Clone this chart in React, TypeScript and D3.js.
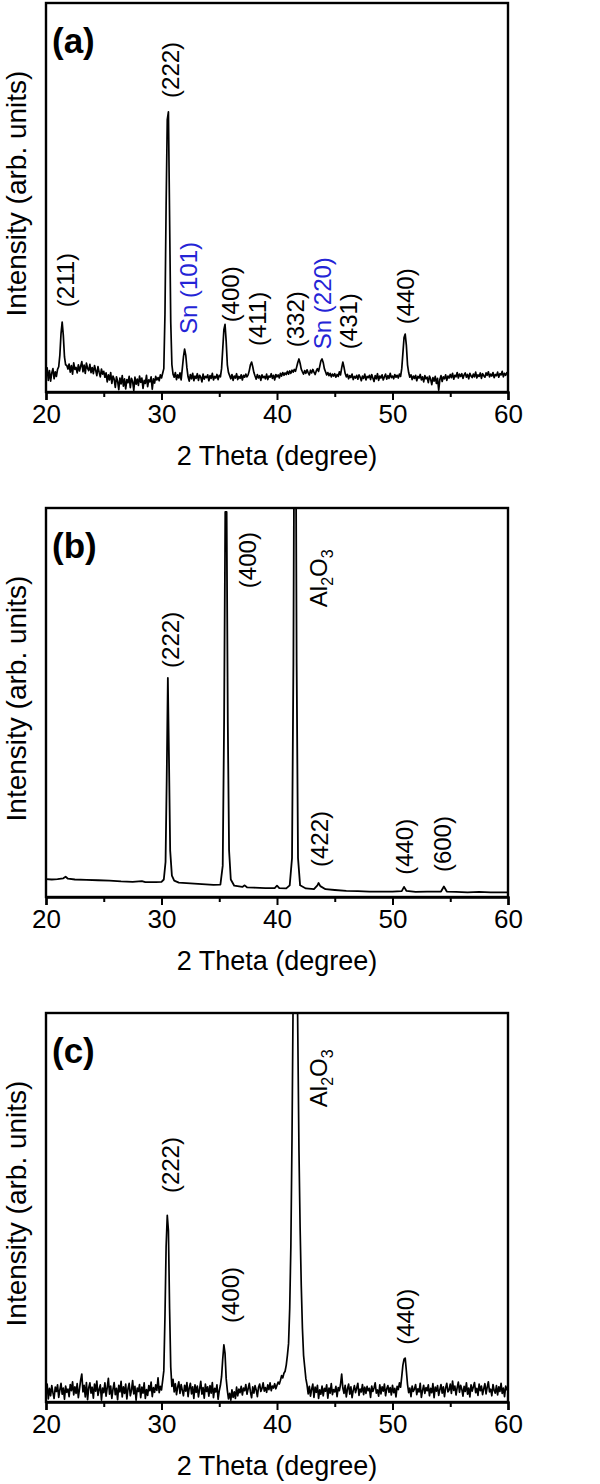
import React, { useEffect, useRef } from "react";
import * as d3 from "d3";

// 2 theta sampling grid for the noisy scans (a) and (c)
const THETA_START = 20;
const THETA_STEP = 0.1;

const xTicks = [20, 30, 40, 50, 60];
const xMinorTicks = [25, 35, 45, 55];

// (a) intensity, 20.0 .. 60.0 in 0.1 deg steps (arb. units, 100 = frame top)
const intensityA = [
  4.1, 6.2, 3.0, 5.5, 2.8, 4.9, 6.0, 3.4, 5.2, 4.0,
  5.8, 6.5, 9.5, 15.0, 18.0, 14.5, 9.0, 7.0, 6.8, 5.9,
  7.2, 5.1, 6.8, 4.6, 7.5, 5.8, 6.3, 4.9, 7.0, 5.4,
  6.6, 7.8, 5.2, 6.9, 4.8, 7.4, 6.1, 5.5, 7.1, 5.0,
  6.3, 4.7, 6.8, 5.6, 4.2, 6.5, 5.1, 3.9, 5.9, 4.6,
  5.3, 3.8, 4.9, 2.6, 4.4, 3.1, 5.0, 2.2, 4.1, 3.3,
  1.2, 3.9, 2.8, 0.6, 3.6, 2.1, 4.2, 1.5, 3.4, 0.8,
  3.2, 2.4, 4.0, 1.1, 3.5, 2.7, 0.4, 3.8, 2.0, 3.3,
  1.7, 4.1, 2.5, 3.6, 0.9, 3.0, 2.2, 4.3, 1.4, 3.1,
  2.6, 3.9, 0.7, 3.4, 2.3, 4.0, 3.1, 3.7, 2.9, 4.4,
  3.6, 4.8, 6.0, 20.0, 48.0, 70.0, 72.0, 45.0, 18.0, 7.0,
  4.6, 3.8, 5.0, 3.2, 4.4, 3.6, 4.9, 3.1, 6.0, 9.0,
  11.0, 9.5, 6.2, 3.9, 2.8, 4.5, 3.4, 4.8, 2.9, 4.1,
  3.5, 4.7, 3.0, 4.3, 3.8, 2.6, 4.6, 3.3, 4.0, 3.7,
  4.4, 2.9, 4.2, 3.5, 4.8, 3.1, 4.0, 3.6, 4.5, 3.2,
  4.3, 3.9, 6.0, 11.0, 16.0, 17.4, 13.0, 7.0, 5.0, 4.2,
  3.4, 4.5, 3.0, 4.1, 3.6, 4.7, 3.2, 4.0, 3.5, 4.4,
  3.1, 4.3, 3.8, 4.6, 3.9, 4.4, 5.5, 7.0, 7.7, 6.5,
  5.0, 4.1, 3.3, 4.5, 3.6, 4.2, 3.0, 4.4, 3.7, 4.0,
  3.4, 4.6, 3.2, 4.1, 3.8, 4.7, 3.5, 4.3, 3.1, 4.5,
  3.9, 4.4, 3.6, 4.8, 4.1, 5.0, 4.3, 4.9, 4.5, 5.3,
  4.6, 5.4, 4.8, 5.6, 5.1, 5.8, 5.3, 6.4, 7.6, 8.5,
  7.4, 5.9, 5.2, 4.6, 5.5, 4.8, 5.7, 5.0, 4.4, 5.6,
  4.9, 5.8, 5.1, 4.5, 5.4, 6.0, 5.3, 6.6, 8.0, 8.5,
  7.6, 6.0, 5.2, 4.4, 5.0, 4.2, 4.8, 3.9, 4.6, 4.1,
  4.7, 3.8, 4.5, 4.0, 5.2, 4.4, 6.2, 7.7, 6.4, 4.8,
  3.9, 4.5, 3.4, 4.2, 3.7, 4.6, 3.2, 4.0, 3.6, 4.3,
  3.3, 4.4, 3.8, 2.9, 4.1, 3.5, 4.6, 3.1, 4.0, 3.7,
  4.3, 3.2, 4.5, 3.6, 2.7, 4.2, 3.4, 4.7, 3.0, 4.1,
  3.6, 4.4, 3.1, 3.9, 4.6, 3.3, 4.2, 3.5, 4.8, 3.7,
  4.1, 3.4, 4.5, 3.8, 4.3, 3.6, 4.6, 4.0, 6.0, 10.0,
  14.0, 14.9, 12.0, 7.0, 5.0, 3.8, 4.4, 3.2, 4.1, 3.5,
  4.3, 2.9, 4.0, 3.6, 4.5, 3.1, 3.9, 2.6, 4.2, 3.4,
  3.8, 2.4, 4.1, 3.3, 1.9, 3.7, 2.8, 4.0, 2.2, 3.5,
  0.5, 3.2, 4.2, 2.7, 3.9, 3.4, 4.4, 3.0, 4.1, 3.6,
  4.5, 3.7, 4.8, 3.3, 4.3, 3.9, 5.0, 3.6, 4.6, 4.0,
  4.7, 3.5, 4.4, 4.9, 3.8, 4.5, 3.4, 4.8, 4.1, 3.7,
  4.6, 3.9, 5.1, 3.6, 4.4, 4.0, 4.9, 3.5, 4.7, 4.2,
  3.8, 4.9, 4.3, 5.2, 3.9, 4.6, 4.1, 5.0, 3.7, 4.5,
  4.2, 5.1, 3.8, 4.7, 4.4, 5.3, 3.9, 4.8, 4.3, 5.0,
  4.5,
];

// (b) smooth scan, [2theta, intensity]
const patternB: [number, number][] = [
  [20.0, 4.6], [20.5, 4.5], [21.0, 4.6], [21.5, 4.8], [21.7, 5.2], [21.9, 4.7],
  [22.5, 4.5], [23.5, 4.4], [24.5, 4.3], [25.5, 4.2], [26.5, 4.0], [27.5, 3.9],
  [28.3, 4.1], [28.6, 3.8], [29.5, 3.8], [30.0, 3.9], [30.2, 4.5], [30.35, 9],
  [30.45, 30], [30.55, 56.3], [30.65, 35], [30.75, 12], [30.9, 5.5], [31.1, 4.2],
  [31.5, 3.7], [32.5, 3.5], [33.5, 3.3], [34.5, 3.1], [35.1, 3.2], [35.3, 8],
  [35.42, 45], [35.52, 99], [35.64, 99], [35.74, 45], [35.85, 12], [36.0, 4.5],
  [36.3, 2.9], [37.0, 2.6], [37.2, 3.0], [37.4, 2.5], [38.0, 2.4], [39.0, 2.3],
  [39.8, 2.3], [40.0, 2.9], [40.2, 2.3], [40.8, 2.2], [41.1, 3.0], [41.3, 10],
  [41.42, 60], [41.5, 130], [41.62, 130], [41.7, 60], [41.82, 10], [42.0, 3.0],
  [42.5, 2.2], [43.2, 2.0], [43.5, 3.0], [43.6, 3.6], [43.75, 2.8], [44.2, 2.0],
  [45.0, 1.8], [46.0, 1.6], [47.0, 1.5], [48.0, 1.4], [49.0, 1.4], [50.0, 1.4],
  [50.8, 1.5], [51.0, 2.6], [51.2, 1.6], [52.0, 1.3], [53.0, 1.4], [54.2, 1.4],
  [54.45, 2.7], [54.7, 1.4], [55.5, 1.3], [56.5, 1.2], [57.5, 1.3], [58.5, 1.2],
  [59.5, 1.2], [60.0, 1.2],
];

// (c) intensity, 20.0 .. 60.0 in 0.1 deg steps
const intensityC = [
  2.1, 4.6, 0.8, 3.5, 1.6, 4.2, 2.4, 0.9, 3.8, 2.7,
  4.4, 1.2, 3.1, 4.8, 2.0, 3.6, 0.7, 4.1, 2.5, 3.3,
  1.4, 4.5, 2.9, 5.2, 1.8, 3.9, 2.2, 4.7, 1.1, 3.4,
  5.6, 7.2, 2.6, 4.3, 1.3, 5.0, 0.6, 3.7, 4.9, 2.3,
  3.8, 1.0, 4.6, 2.8, 5.4, 1.7, 3.2, 4.4, 0.5, 3.6,
  2.4, 4.9, 1.5, 3.7, 6.1, 2.0, 4.1, 0.9, 3.3, 5.0,
  1.9, 3.5, 0.6, 4.3, 2.6, 5.3, 1.3, 3.9, 2.2, 4.6,
  0.8, 3.4, 4.8, 1.6, 3.0, 5.5, 2.1, 4.0, 0.5, 3.6,
  2.7, 4.5, 1.1, 3.8, 2.3, 4.9, 0.9, 3.2, 1.7, 4.2,
  2.9, 5.1, 1.4, 3.7, 2.5, 4.4, 3.0, 6.2, 2.4, 4.0,
  3.1, 5.5, 8.0, 22.0, 40.0, 48.0, 44.0, 24.0, 9.0, 4.0,
  5.8, 2.6, 4.7, 1.9, 3.9, 5.2, 2.2, 4.5, 3.0, 1.6,
  4.3, 2.8, 5.0, 1.4, 3.6, 4.8, 2.1, 3.9, 0.9, 4.4,
  2.5, 4.1, 1.3, 3.4, 5.3, 2.0, 3.7, 1.0, 4.6, 2.7,
  3.9, 1.5, 4.2, 2.3, 5.0, 1.1, 3.5, 2.6, 4.4, 0.7,
  2.9, 4.3, 6.5, 11.0, 14.7, 12.5, 6.0, 3.0, 0.8, 2.2,
  0.5, 3.1, 1.2, 2.6, 0.9, 3.8, 1.6, 3.3, 2.4, 4.0,
  1.8, 3.6, 2.9, 4.5, 2.0, 3.4, 4.8, 2.6, 1.1, 3.9,
  2.3, 4.2, 3.1, 1.4, 3.8, 4.6, 2.7, 3.5, 4.9, 2.8,
  3.7, 2.5, 4.4, 3.2, 4.9, 2.9, 4.1, 3.6, 4.7, 3.4,
  4.3, 5.1, 4.6, 5.6, 6.8, 6.2, 7.4, 7.9, 9.5, 12.0,
  15.0, 24.0, 40.0, 68.0, 105.0, 135.0, 140.0, 125.0, 95.0, 65.0,
  45.0, 30.0, 19.0, 12.0, 9.0, 6.0, 4.4, 2.1, 4.0, 1.5,
  3.3, 4.6, 1.2, 3.8, 2.5, 4.3, 0.9, 3.1, 2.0, 4.1,
  1.6, 3.5, 2.8, 4.4, 1.0, 3.6, 2.3, 4.7, 1.9, 3.2,
  2.6, 4.0, 1.4, 3.7, 2.9, 4.5, 7.2, 3.6, 2.2, 4.3,
  1.3, 3.4, 4.6, 2.0, 3.9, 1.1, 3.0, 4.2, 2.4, 3.6,
  4.8, 1.7, 3.3, 2.6, 4.5, 1.9, 3.8, 2.2, 4.0, 2.9,
  3.5, 1.2, 4.1, 2.7, 3.6, 4.9, 2.3, 3.1, 1.5, 4.4,
  2.1, 3.9, 2.8, 4.6, 1.6, 3.4, 4.2, 2.5, 3.7, 1.8,
  4.3, 2.4, 3.5, 1.3, 4.0, 3.2, 4.9, 3.8, 6.5, 9.5,
  11.0, 11.3, 8.0, 4.5, 2.4, 3.6, 1.4, 4.1, 2.7, 3.3,
  4.5, 1.9, 3.4, 2.6, 4.8, 1.2, 3.0, 4.3, 2.2, 3.7,
  2.9, 4.4, 1.6, 3.5, 2.4, 4.7, 1.1, 3.8, 2.8, 4.2,
  1.7, 3.2, 4.5, 2.3, 3.9, 1.4, 3.6, 4.8, 2.6, 3.1,
  4.6, 2.2, 5.4, 3.0, 4.1, 1.8, 3.7, 5.1, 2.5, 4.3,
  3.3, 1.5, 4.0, 2.7, 4.9, 2.0, 3.6, 1.3, 4.4, 2.8,
  3.9, 5.0, 2.4, 3.5, 1.7, 4.6, 2.9, 4.1, 1.9, 3.4,
  4.7, 2.1, 3.8, 5.2, 2.6, 3.3, 1.6, 4.5, 3.0, 2.3,
  4.2, 1.8, 3.9, 2.7, 4.8, 2.2, 3.6, 1.4, 4.1, 3.2,
  2.9,
];

// peak labels: text, 2theta, intensity at the label's lower end
type PeakLabel = { text: string; theta: number; at: number; sn?: boolean };

const labelsA: PeakLabel[] = [
  { text: "(211)", theta: 21.65, at: 21.8 },
  { text: "(222)", theta: 30.74, at: 75.6 },
  { text: "Sn (101)", theta: 32.3, at: 14.9, sn: true },
  { text: "(400)", theta: 35.93, at: 17.9 },
  { text: "(411)", theta: 38.27, at: 11.8 },
  { text: "(332)", theta: 41.56, at: 11.5 },
  { text: "Sn (220)", theta: 43.9, at: 11.0, sn: true },
  { text: "(431)", theta: 46.15, at: 11.0 },
  { text: "(440)", theta: 51.08, at: 17.4 },
];
const labelsB: PeakLabel[] = [
  { text: "(222)", theta: 30.74, at: 58.9 },
  { text: "(400)", theta: 37.4, at: 79.4 },
  { text: "Al2O3", theta: 43.55, at: 74.5 },
  { text: "(422)", theta: 43.7, at: 7.7 },
  { text: "(440)", theta: 51.0, at: 5.7 },
  { text: "(600)", theta: 54.3, at: 6.4 },
];
const labelsC: PeakLabel[] = [
  { text: "(222)", theta: 30.74, at: 53.7 },
  { text: "(400)", theta: 35.93, at: 20.3 },
  { text: "Al2O3", theta: 43.55, at: 75.8 },
  { text: "(440)", theta: 51.08, at: 14.7 },
];

const panelTags = ["(a)", "(b)", "(c)"];

const FONT = "'Liberation Sans', Arial, Helvetica, sans-serif";
const SN_BLUE = "#2424d6";

export default function App() {
  const svgRef = useRef<SVGSVGElement>(null);

  useEffect(() => {
    const svg = d3.select(svgRef.current);
    svg.selectAll("*").remove();

    const left = 46, right = 508, plotH = 389;
    const tops = [3, 508, 1013];

    const gridPts = (vals: number[]) =>
      vals.map((v, i) => [THETA_START + i * THETA_STEP, v] as [number, number]);

    const panels = [
      { pts: gridPts(intensityA), labels: labelsA, sw: 1.7 },
      { pts: patternB, labels: labelsB, sw: 1.8 },
      { pts: gridPts(intensityC), labels: labelsC, sw: 1.7 },
    ];

    panels.forEach((p, i) => {
      const top = tops[i];
      const bottom = top + plotH;
      const x = d3.scaleLinear().domain([20, 60]).range([left, right]);
      const y = d3.scaleLinear().domain([0, 100]).range([bottom, top]);

      const g = svg.append("g");
      const clipId = `clip-${i}`;
      g.append("clipPath").attr("id", clipId)
        .append("rect").attr("x", left).attr("y", top)
        .attr("width", right - left).attr("height", plotH);

      const line = d3.line<[number, number]>()
        .x((d) => x(d[0]))
        .y((d) => y(d[1]));

      g.append("path")
        .datum(p.pts)
        .attr("clip-path", `url(#${clipId})`)
        .attr("d", line)
        .attr("fill", "none")
        .attr("stroke", "#000")
        .attr("stroke-width", p.sw)
        .attr("stroke-linejoin", "round");

      // frame
      g.append("rect")
        .attr("x", left).attr("y", top)
        .attr("width", right - left).attr("height", plotH)
        .attr("fill", "none").attr("stroke", "#000").attr("stroke-width", 2.4);

      // bottom axis, major + minor ticks
      const ax = g.append("g").attr("transform", `translate(0,${bottom})`)
        .call(d3.axisBottom(x).tickValues(xTicks).tickSize(8).tickPadding(5).tickFormat(d3.format("d")));
      ax.select(".domain").attr("stroke-width", 2.4);
      ax.selectAll(".tick line").attr("stroke-width", 2);
      ax.attr("font-family", FONT).attr("font-size", 26);
      ax.selectAll(".tick text").attr("fill", "#000");

      const axm = g.append("g").attr("transform", `translate(0,${bottom})`)
        .call(d3.axisBottom(x).tickValues(xMinorTicks).tickSize(5).tickFormat(() => ""));
      axm.select(".domain").remove();
      axm.selectAll(".tick line").attr("stroke-width", 2);

      // axis titles
      g.append("text")
        .attr("x", (left + right) / 2).attr("y", bottom + 73)
        .attr("text-anchor", "middle")
        .attr("font-family", FONT).attr("font-size", 27)
        .text("2 Theta (degree)");

      g.append("text")
        .attr("transform", `translate(26,${(top + bottom) / 2 - 4}) rotate(-90)`)
        .attr("text-anchor", "middle")
        .attr("font-family", FONT).attr("font-size", 28)
        .text("Intensity (arb. units)");

      // panel tag
      g.append("text")
        .attr("x", 52).attr("y", top + 50)
        .attr("font-family", FONT).attr("font-size", 35).attr("font-weight", "bold")
        .text(panelTags[i]);

      // peak labels, rotated
      const fs = 24;
      p.labels.forEach((l) => {
        const t = g.append("text")
          .attr("transform", `translate(${x(l.theta) + fs * 0.36},${y(l.at)}) rotate(-90)`)
          .attr("font-family", FONT).attr("font-size", fs)
          .attr("fill", l.sn ? SN_BLUE : "#000");
        if (l.text === "Al2O3") {
          t.append("tspan").text("Al");
          t.append("tspan").attr("dy", 6).attr("font-size", 16).text("2");
          t.append("tspan").attr("dy", -6).text("O");
          t.append("tspan").attr("dy", 6).attr("font-size", 16).text("3");
        } else {
          t.text(l.text);
        }
      });
    });
  }, []);

  return (
    <svg
      ref={svgRef}
      width={600}
      height={1484}
      style={{ position: "absolute", left: 0, top: 0, background: "#fff" }}
    />
  );
}
